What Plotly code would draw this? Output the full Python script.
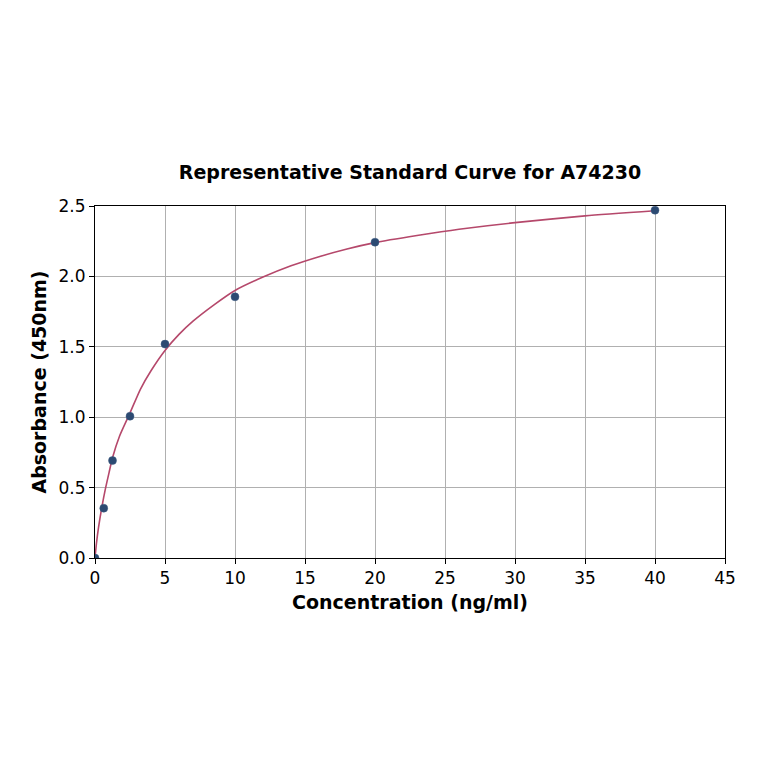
import plotly.graph_objects as go

# standard points
conc = [0, 0.625, 1.25, 2.5, 5, 10, 20, 40]
absorb = [0.0, 0.354, 0.692, 1.007, 1.519, 1.855, 2.243, 2.470]

# fitted curve
curve_x = [0, 0.1, 0.25, 0.5, 0.75, 1.0, 1.25, 1.75, 2.5, 3.25, 4, 5, 6, 7, 8.5,
           10, 12, 14, 16, 18, 20, 23, 26, 30, 35, 40]
curve_y = [0, 0.1, 0.215, 0.367, 0.495, 0.605, 0.712, 0.865, 1.03, 1.2, 1.33, 1.474, 1.588, 1.682, 1.798,
           1.9, 1.995, 2.075, 2.14, 2.195, 2.24, 2.29, 2.335, 2.382, 2.43, 2.466]

x_ticks = [0, 5, 10, 15, 20, 25, 30, 35, 40, 45]
y_ticks = [0.0, 0.5, 1.0, 1.5, 2.0, 2.5]

fig = go.Figure()

fig.add_trace(go.Scatter(
    x=curve_x, y=curve_y, mode="lines",
    line=dict(color="#b5486b", width=1.6, shape="spline", smoothing=0.6),
    showlegend=False, hoverinfo="skip",
))

fig.add_trace(go.Scatter(
    x=conc, y=absorb, mode="markers",
    marker=dict(color="#2c4a72", size=8, line=dict(color="#3d5a80", width=0.5)),
    showlegend=False,
))

font = "DejaVu Sans"

# page is drawn with an 8px body offset, so margins shifted accordingly
fig.update_layout(
    width=764, height=764,
    paper_bgcolor="white", plot_bgcolor="white",
    margin=dict(l=87, r=47, t=198, b=214),
    font=dict(family=font, size=17, color="black"),
    title=dict(
        text="<b>Representative Standard Curve for A74230</b>",
        font=dict(family=font, size=19, color="black"),
        x=0.5, xref="paper", xanchor="center",
        y=1 - 164 / 764, yref="container", yanchor="middle",
    ),
)

fig.update_xaxes(
    range=[0, 45], tickvals=x_ticks, ticktext=[str(v) for v in x_ticks],
    showgrid=True, gridcolor="#b0b0b0", gridwidth=1,
    showline=True, linecolor="black", linewidth=1, mirror=True,
    ticks="outside", ticklen=5, tickcolor="black", zeroline=False,
    tickfont=dict(family=font, size=17),
    title=dict(text="<b>Concentration (ng/ml)</b>", font=dict(family=font, size=19), standoff=8),
)

fig.update_yaxes(
    range=[0, 2.5], tickvals=y_ticks, ticktext=[f"{v:.1f}" for v in y_ticks],
    showgrid=True, gridcolor="#b0b0b0", gridwidth=1,
    showline=True, linecolor="black", linewidth=1, mirror=True,
    ticks="outside", ticklen=5, tickcolor="black", zeroline=False,
    tickfont=dict(family=font, size=17),
    title=dict(text="<b>Absorbance (450nm)</b>", font=dict(family=font, size=19), standoff=6),
)

fig.write_html("out.html")
